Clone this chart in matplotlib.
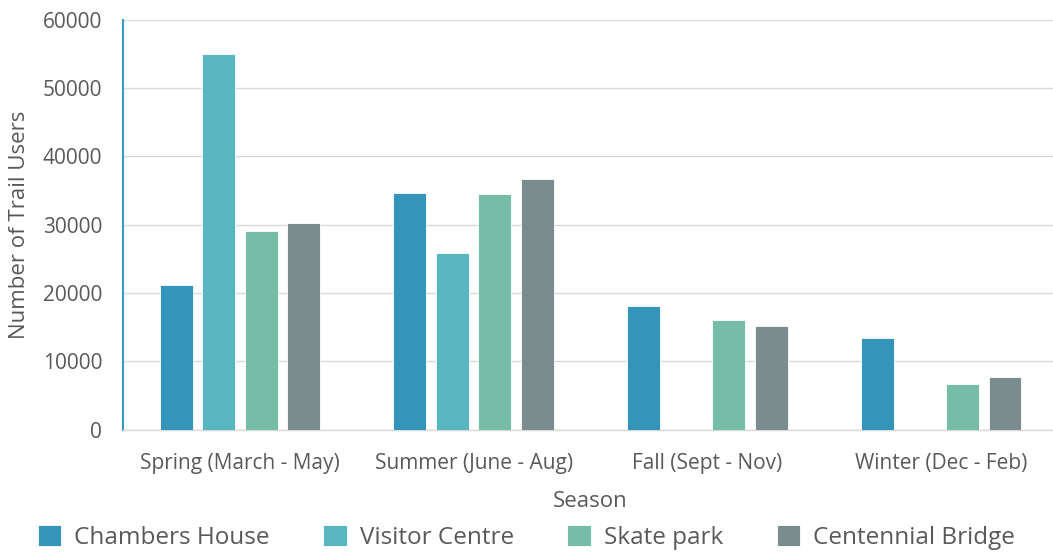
import numpy as np
import matplotlib.pyplot as plt

# dados
estacoes = ["Spring (March - May)", "Summer (June - Aug)", "Fall (Sept - Nov)", "Winter (Dec - Feb)"]
locais = ["Chambers House", "Visitor Centre", "Skate park", "Centennial Bridge"]

chambers_house = [21200, 34700, 18100, 13400]
visitor_centre = [55000, 25900, 0, 0]
skate_park = [29000, 34500, 16000, 6600]
centennial_bridge = [30300, 36700, 15200, 7700]

cores = ["#3494BA", "#58B6C0", "#75BDA7", "#7A8C8E"]

plt.rcParams['font.family'] = ['Open Sans', 'DejaVu Sans']
cinza = "#595959"

fig = plt.figure(figsize=(10.53, 5.52), dpi=100)
ax = fig.add_axes([0.1168, 0.2219, 0.888, 0.7422])

x = np.arange(len(estacoes))
largura = 0.141
passo = 0.182
series = [chambers_house, visitor_centre, skate_park, centennial_bridge]

for k, (nome, valores) in enumerate(zip(locais, series)):
    ax.bar(x + (k - 1.5) * passo, valores, largura, color=cores[k], label=nome,
           edgecolor="white", linewidth=0.6, zorder=3)

ax.set_xlim(-0.5, 3.5)
ax.set_ylim(0, 60000)
ax.set_yticks(np.arange(0, 60001, 10000))
ax.grid(axis='y', color="#D9D9D9", linewidth=1.0, zorder=0)

ax.set_xticks(x)
ax.set_xticklabels(estacoes)
ax.tick_params(axis='both', length=0, labelsize=15, labelcolor=cinza)
ax.tick_params(axis='x', pad=17)
ax.tick_params(axis='y', pad=15)

for s in ['top', 'right']:
    ax.spines[s].set_visible(False)
ax.spines['left'].set_color("#3A9AC4")
ax.spines['left'].set_linewidth(1.5)
ax.spines['bottom'].set_color("#D9D9D9")
ax.spines['bottom'].set_linewidth(1.0)

ax.set_xlabel("Season", fontsize=16, color=cinza, labelpad=12)
ax.set_ylabel("Number of Trail Users", fontsize=16, color=cinza, labelpad=9)

leg = fig.legend(loc='center', bbox_to_anchor=(0.5, 0.027), ncol=4, frameon=False,
                 fontsize=17.5, handlelength=0.95, handleheight=0.95, handletextpad=0.55,
                 columnspacing=2.2, labelcolor=cinza)

fig.savefig("out.png", dpi=100)
